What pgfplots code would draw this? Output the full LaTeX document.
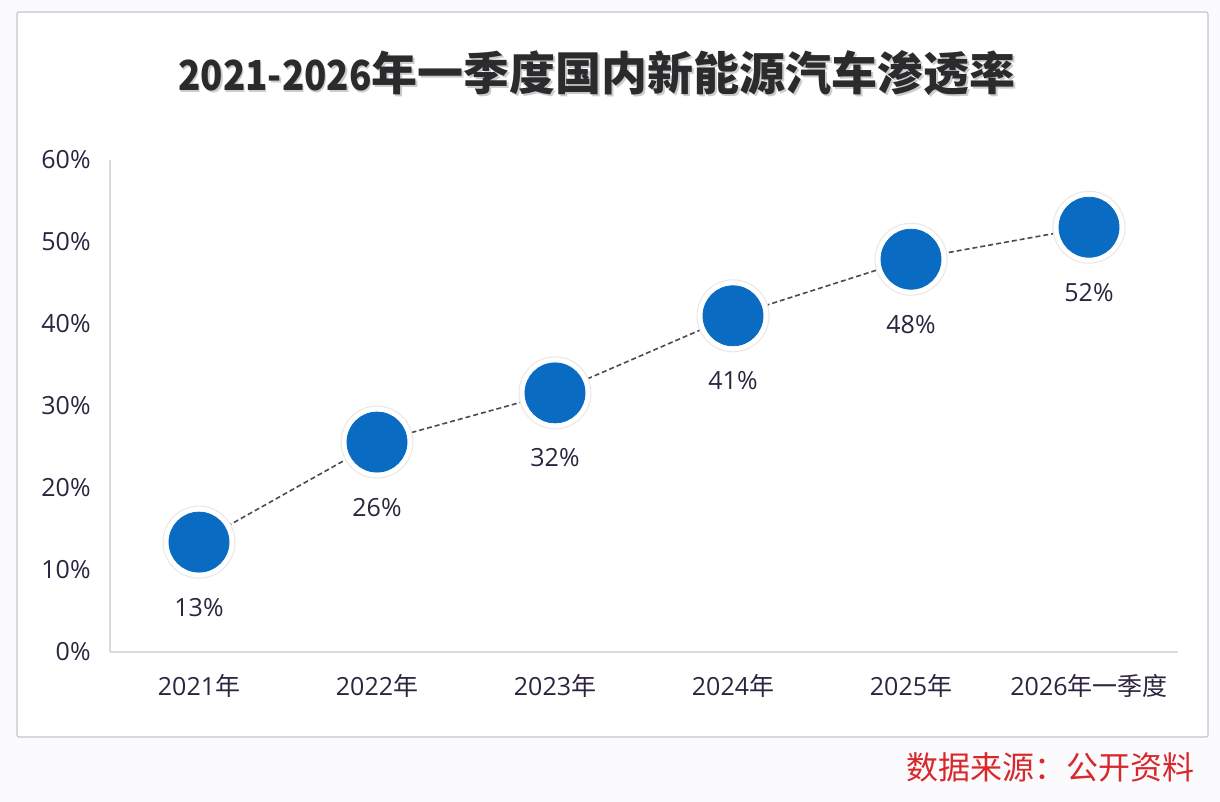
\documentclass[border=0pt]{standalone}
\usepackage{pgfplots}
\pgfplotsset{compat=1.18}
\usepackage{pgfplotstable}
\usepackage{graphicx}
\usepackage{fontspec}
\setmainfont{Open Sans}
\newfontfamily\cjk{Noto Sans CJK SC}
\definecolor{bgcol}{HTML}{FBFBFD}
\definecolor{framecol}{HTML}{C4C4CC}
\definecolor{labcol}{HTML}{2D2440}
\definecolor{mcol}{HTML}{0A6BC2}
\definecolor{linecol}{HTML}{4A4A55}
\definecolor{axcol}{HTML}{D8DAE0}
\definecolor{titlecol}{HTML}{2B2B2E}
\definecolor{srccol}{HTML}{D9282C}
\newcommand{\titletext}{\scalebox{0.8}[0.9]{2021-2026}年一季度国内新能源汽车渗透率}
\pgfplotstableread{
x y lab
0 13.4 13
1 25.6 26
2 31.6 32
3 41.0 41
4 47.9 48
5 51.8 52
}\rates
\begin{document}
\begin{tikzpicture}
\path[use as bounding box, fill=bgcol] (0,0) rectangle (610pt,401pt);
\draw[framecol, line width=0.6pt, fill=white, rounded corners=1pt] (8.5pt,32.5pt) rectangle (604pt,395pt);
\node[text=gray!40, font=\cjk\bfseries\fontsize{23}{26}\selectfont] at (299.2pt,363.6pt) {\titletext};
\node[text=titlecol, font=\cjk\bfseries\fontsize{23}{26}\selectfont] at (298.5pt,364.5pt) {\titletext};
\node[text=srccol, font=\cjk\fontsize{16}{18}\selectfont, anchor=east, inner sep=0pt] at (597.5pt,17.5pt) {数据来源：公开资料};
\begin{axis}[
  at={(55pt,75pt)}, anchor=south west,
  scale only axis, width=534pt, height=246pt,
  xmin=-0.5, xmax=5.5, ymin=0, ymax=60,
  axis x line*=bottom, axis y line*=left,
  axis line style={draw=axcol, line width=0.8pt, -},
  major tick length=0pt,
  xtick={0,1,2,3,4,5},
  xticklabels={2021{\cjk 年},2022{\cjk 年},2023{\cjk 年},2024{\cjk 年},2025{\cjk 年},2026{\cjk 年一季度}},
  ytick={0,10,20,30,40,50,60},
  yticklabel={\pgfmathprintnumber{\tick}\%},
  /pgf/number format/assume math mode=true,
  ticklabel style={font=\fontsize{12.5}{14}\selectfont, text=labcol, inner sep=0pt},
  yticklabel style={anchor=east, xshift=-9.5pt},
  xticklabel style={anchor=center, yshift=-17pt},
  clip=false,
]
\addplot[linecol, line width=0.8pt, dash pattern=on 2.5pt off 1.5pt] table[x=x, y=y] {\rates};
\addplot[only marks, mark=*, mark size=18pt, mark options={fill=white, draw=gray!18, line width=0.5pt}] table[x=x, y=y] {\rates};
\addplot[only marks, mark=*, mark size=15pt, mark options={fill=mcol, draw=mcol},
  point meta=explicit symbolic,
  nodes near coords={\pgfplotspointmeta\%},
  nodes near coords style={anchor=center, yshift=-32.5pt, font=\fontsize{12.5}{14}\selectfont, text=labcol, inner sep=0pt}]
  table[x=x, y=y, meta=lab] {\rates};
\end{axis}
\end{tikzpicture}
\end{document}
